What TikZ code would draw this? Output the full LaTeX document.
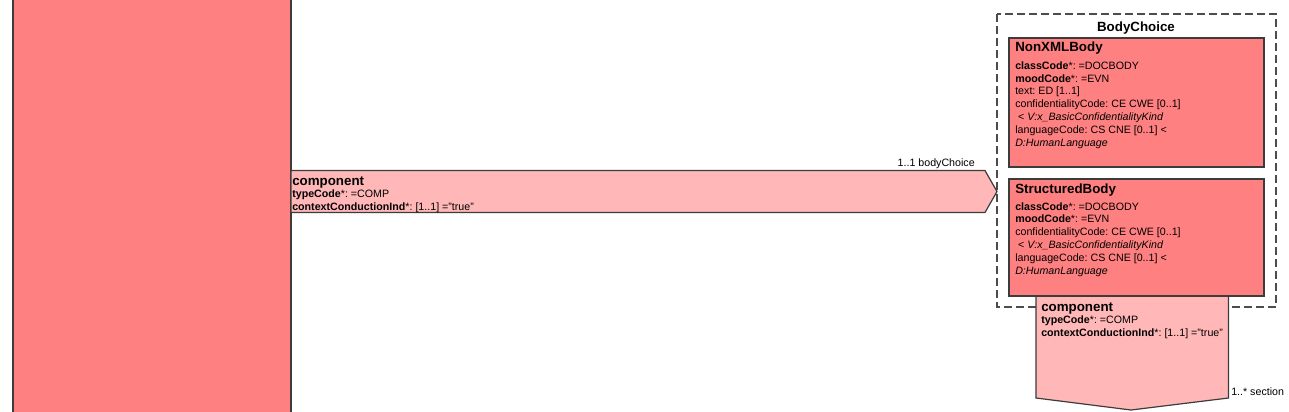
\documentclass[tikz,border=0pt]{standalone}
\usepackage{fontspec}
\setmainfont{Liberation Sans}
\frenchspacing
\definecolor{classred}{RGB}{255,128,128}
\definecolor{assocpink}{RGB}{255,183,183}
\definecolor{edgegrey}{RGB}{60,60,60}

\begin{document}
\begin{tikzpicture}[
  x=0.75pt,
  y=-0.75pt,
  line join=miter,
  classbox/.style={draw=edgegrey,fill=classred,line width=0.9pt},
  assocbox/.style={draw=edgegrey,fill=assocpink,line width=0.9pt},
  choicebox/.style={draw=black!70,line width=0.9pt,dash pattern=on 6pt off 3pt},
  title/.style={anchor=base west,inner sep=0pt,font=\fontsize{10}{12}\selectfont\bfseries},
  % multi-line nodes are placed by the baseline of their last line
  attrs/.style={anchor=base west,inner sep=0pt,align=left,font=\fontsize{8}{9.6}\selectfont},
  role/.style={inner sep=0pt,font=\fontsize{8}{9.6}\selectfont}
]

% Canvas in pixels: 1289 x 411
\clip (0,0) rectangle (1289,411);

% ------------------------------------------------------------------
% Source class (cut off at top and bottom)
% ------------------------------------------------------------------
\coordinate (S1) at (13,-10);
\coordinate (S2) at (291,421);
\draw[classbox] (S1) rectangle (S2);

% ------------------------------------------------------------------
% BodyChoice
% ------------------------------------------------------------------
\coordinate (C1) at (997,14);
\coordinate (C2) at (1276,307);
\draw[choicebox] (C1) rectangle (C2);
\node[anchor=base,inner sep=0pt,font=\fontsize{10}{12}\selectfont\bfseries]
  (choice) at (1136,31) {BodyChoice};

% ------------------------------------------------------------------
% component -> bodyChoice
% ------------------------------------------------------------------
\coordinate (H1) at (291,170.5);
\coordinate (H2) at (985,170.5);
\coordinate (H3) at (997,191.5);
\coordinate (H4) at (985,212.5);
\coordinate (H5) at (291,212.5);
\draw[assocbox] (H1)--(H2)--(H3)--(H4)--(H5)--cycle;

\node[title] (comp1) at (292,185) {component};
\node[attrs] (comp1attr) at (292,210) {%
  \textbf{typeCode}*: =COMP\\
  \textbf{contextConductionInd}*: [1..1] ="true"};
\node[role,anchor=base east] (choicerole) at (975,166.5) {1..1 bodyChoice};

% ------------------------------------------------------------------
% component -> section
% ------------------------------------------------------------------
\coordinate (V1) at (1036,290);
\coordinate (V2) at (1228.5,290);
\coordinate (V3) at (1228.5,398);
\coordinate (V4) at (1131,410);
\coordinate (V5) at (1036,398);
\draw[assocbox] (V1)--(V2)--(V3)--(V4)--(V5)--cycle;

\node[title] (comp2) at (1041,311) {component};
\node[attrs] (comp2attr) at (1041,336.5) {%
  \textbf{typeCode}*: =COMP\\
  \textbf{contextConductionInd}*: [1..1] ="true"};
\node[role,anchor=base west] (sectionrole) at (1231,395) {1..* section};

% ------------------------------------------------------------------
% NonXMLBody
% ------------------------------------------------------------------
\coordinate (N1) at (1009,38);
\coordinate (N2) at (1264,167);
\draw[classbox] (N1) rectangle (N2);
\node[title] (nonxml) at (1015,51) {NonXMLBody};
\node[attrs] (nonxmlattr) at (1015,146) {%
  \textbf{classCode}*: =DOCBODY\\
  \textbf{moodCode}*: =EVN\\
  text: ED [1..1]\\
  confidentialityCode: CE CWE [0..1]\\
  \ < \textit{V:x\_BasicConfidentialityKind}\\
  languageCode: CS CNE [0..1] <\\
  \textit{D:HumanLanguage}};

% ------------------------------------------------------------------
% StructuredBody
% ------------------------------------------------------------------
\coordinate (B1) at (1009,179);
\coordinate (B2) at (1264,296);
\draw[classbox] (B1) rectangle (B2);
\node[title] (structured) at (1015,193) {StructuredBody};
\node[attrs] (structuredattr) at (1015,274) {%
  \textbf{classCode}*: =DOCBODY\\
  \textbf{moodCode}*: =EVN\\
  confidentialityCode: CE CWE [0..1]\\
  \ < \textit{V:x\_BasicConfidentialityKind}\\
  languageCode: CS CNE [0..1] <\\
  \textit{D:HumanLanguage}};

\end{tikzpicture}
\end{document}
